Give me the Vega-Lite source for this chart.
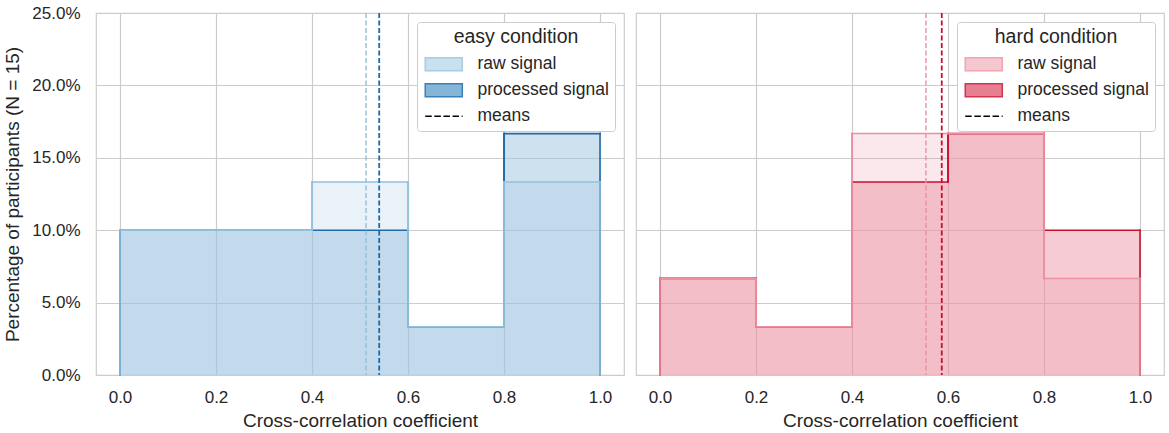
{
  "$schema": "https://vega.github.io/schema/vega-lite/v6.json",
  "autosize": {"type": "pad"},
  "padding": {"left": 3, "top": 3, "right": 7, "bottom": 3},
  "bounds": "flush",
  "spacing": 12,
  "background": "white",
  "config": {
    "font": "Liberation Sans",
    "view": {"stroke": "#cccccc", "strokeWidth": 1.2},
    "axis": {
      "grid": true, "gridColor": "#cccccc", "gridWidth": 1.2,
      "domain": false, "ticks": false,
      "labelFont": "Liberation Sans", "labelFontSize": 17, "labelColor": "#262626",
      "titleFont": "Liberation Sans", "titleFontSize": 19, "titleFontWeight": "normal", "titleColor": "#262626"
    },
    "axisX": {"labelPadding": 14, "titlePadding": 6},
    "axisY": {"labelPadding": 16, "titlePadding": 9},
    "legend": {
      "orient": "top-right", "offset": 9, "padding": 6,
      "fillColor": "white", "strokeColor": "#cccccc", "cornerRadius": 3,
      "titleFont": "Liberation Sans", "titleFontSize": 19.5, "titleFontWeight": "normal", "titleColor": "#262626",
      "titleAnchor": "middle", "titlePadding": 8,
      "labelFont": "Liberation Sans", "labelFontSize": 17.5, "labelColor": "#262626", "labelLimit": 300,
      "labelOffset": 37, "rowPadding": 6, "symbolSize": 169, "symbolStrokeWidth": 1.5
    }
  },
  "datasets": {
    "bars": [
      {"condition": "easy", "signal": "raw signal", "bin_start": 0.0, "bin_end": 0.2, "pct": 0.1},
      {"condition": "easy", "signal": "raw signal", "bin_start": 0.2, "bin_end": 0.4, "pct": 0.1},
      {"condition": "easy", "signal": "raw signal", "bin_start": 0.4, "bin_end": 0.6, "pct": 0.1333},
      {"condition": "easy", "signal": "raw signal", "bin_start": 0.6, "bin_end": 0.8, "pct": 0.0333},
      {"condition": "easy", "signal": "raw signal", "bin_start": 0.8, "bin_end": 1.0, "pct": 0.1333},
      {"condition": "easy", "signal": "processed signal", "bin_start": 0.0, "bin_end": 0.2, "pct": 0.1},
      {"condition": "easy", "signal": "processed signal", "bin_start": 0.2, "bin_end": 0.4, "pct": 0.1},
      {"condition": "easy", "signal": "processed signal", "bin_start": 0.4, "bin_end": 0.6, "pct": 0.1},
      {"condition": "easy", "signal": "processed signal", "bin_start": 0.6, "bin_end": 0.8, "pct": 0.0333},
      {"condition": "easy", "signal": "processed signal", "bin_start": 0.8, "bin_end": 1.0, "pct": 0.1667},
      {"condition": "hard", "signal": "raw signal", "bin_start": 0.0, "bin_end": 0.2, "pct": 0.0667},
      {"condition": "hard", "signal": "raw signal", "bin_start": 0.2, "bin_end": 0.4, "pct": 0.0333},
      {"condition": "hard", "signal": "raw signal", "bin_start": 0.4, "bin_end": 0.6, "pct": 0.1667},
      {"condition": "hard", "signal": "raw signal", "bin_start": 0.6, "bin_end": 0.8, "pct": 0.1667},
      {"condition": "hard", "signal": "raw signal", "bin_start": 0.8, "bin_end": 1.0, "pct": 0.0667},
      {"condition": "hard", "signal": "processed signal", "bin_start": 0.0, "bin_end": 0.2, "pct": 0.0667},
      {"condition": "hard", "signal": "processed signal", "bin_start": 0.2, "bin_end": 0.4, "pct": 0.0333},
      {"condition": "hard", "signal": "processed signal", "bin_start": 0.4, "bin_end": 0.6, "pct": 0.1333},
      {"condition": "hard", "signal": "processed signal", "bin_start": 0.6, "bin_end": 0.8, "pct": 0.1667},
      {"condition": "hard", "signal": "processed signal", "bin_start": 0.8, "bin_end": 1.0, "pct": 0.1}
    ],
    "means": [
      {"condition": "easy", "signal": "raw signal", "mean": 0.5125},
      {"condition": "easy", "signal": "processed signal", "mean": 0.54},
      {"condition": "hard", "signal": "raw signal", "mean": 0.554},
      {"condition": "hard", "signal": "processed signal", "mean": 0.587}
    ]
  },
  "resolve": {
    "scale": {"fill": "independent", "stroke": "independent", "shape": "independent"},
    "legend": {"fill": "independent", "stroke": "independent", "shape": "independent"}
  },
  "hconcat": [
    {
      "width": 528,
      "height": 362,
      "data": {"name": "bars"},
      "transform": [
        {"filter": "datum.condition == 'easy'"},
        {"window": [{"op": "lag", "field": "pct", "as": "prev"}, {"op": "lead", "field": "pct", "as": "next"}],
         "groupby": ["signal"], "sort": [{"field": "bin_start"}]},
        {"calculate": "datum.prev == null ? 0 : datum.prev", "as": "prev0"},
        {"calculate": "datum.next == null ? 0 : datum.next", "as": "next0"}
      ],
      "layer": [
        {
          "transform": [{"filter": "datum.signal == 'processed signal'"}],
          "mark": {"type": "rect", "fill": "#9cc3e0", "fillOpacity": 0.5, "strokeWidth": 0},
          "encoding": {
            "x": {"field": "bin_start", "type": "quantitative",
                  "scale": {"domain": [-0.05, 1.05], "nice": false, "zero": false},
                  "axis": {"values": [0, 0.2, 0.4, 0.6, 0.8, 1.0], "format": ".1f"},
                  "title": "Cross-correlation coefficient"},
            "x2": {"field": "bin_end"},
            "y": {"field": "pct", "type": "quantitative",
                  "scale": {"domain": [0, 0.25], "nice": false},
                  "axis": {"values": [0, 0.05, 0.1, 0.15, 0.2, 0.25], "format": ".1%"},
                  "title": "Percentage of participants (N = 15)"},
            "y2": {"datum": 0}
          }
        },
        {
          "transform": [{"filter": "datum.signal == 'raw signal'"}],
          "mark": {"type": "rect", "fill": "#96bee1", "fillOpacity": 0.2, "strokeWidth": 0},
          "encoding": {
            "x": {"field": "bin_start", "type": "quantitative"},
            "x2": {"field": "bin_end"},
            "y": {"field": "pct", "type": "quantitative"},
            "y2": {"datum": 0}
          }
        },
        {
          "transform": [{"filter": "datum.signal == 'processed signal'"}],
          "mark": {"type": "rule", "color": "#1f6aa8", "strokeWidth": 1.6, "strokeCap": "square"},
          "encoding": {
            "x": {"field": "bin_start", "type": "quantitative"},
            "x2": {"field": "bin_end"},
            "y": {"field": "pct", "type": "quantitative"}
          }
        },
        {
          "transform": [{"filter": "datum.signal == 'processed signal'"}],
          "mark": {"type": "rule", "color": "#1f6aa8", "strokeWidth": 1.6, "strokeCap": "square"},
          "encoding": {
            "x": {"field": "bin_start", "type": "quantitative"},
            "y": {"field": "prev0", "type": "quantitative"},
            "y2": {"field": "pct"}
          }
        },
        {
          "transform": [{"filter": "datum.signal == 'processed signal'"}],
          "mark": {"type": "rule", "color": "#1f6aa8", "strokeWidth": 1.6, "strokeCap": "square"},
          "encoding": {
            "x": {"field": "bin_end", "type": "quantitative"},
            "y": {"field": "next0", "type": "quantitative"},
            "y2": {"field": "pct"}
          }
        },
        {
          "transform": [{"filter": "datum.signal == 'raw signal'"}],
          "mark": {"type": "rule", "color": "#92c0dd", "strokeWidth": 1.5, "strokeCap": "square"},
          "encoding": {
            "x": {"field": "bin_start", "type": "quantitative"},
            "x2": {"field": "bin_end"},
            "y": {"field": "pct", "type": "quantitative"}
          }
        },
        {
          "transform": [{"filter": "datum.signal == 'raw signal'"}],
          "mark": {"type": "rule", "color": "#92c0dd", "strokeWidth": 1.5, "strokeCap": "square"},
          "encoding": {
            "x": {"field": "bin_start", "type": "quantitative"},
            "y": {"field": "prev0", "type": "quantitative"},
            "y2": {"field": "pct"}
          }
        },
        {
          "transform": [{"filter": "datum.signal == 'raw signal'"}],
          "mark": {"type": "rule", "color": "#92c0dd", "strokeWidth": 1.5, "strokeCap": "square"},
          "encoding": {
            "x": {"field": "bin_end", "type": "quantitative"},
            "y": {"field": "next0", "type": "quantitative"},
            "y2": {"field": "pct"}
          }
        },
        {
          "data": {"name": "means"},
          "transform": [{"filter": "datum.condition == 'easy' && datum.signal == 'raw signal'"}],
          "mark": {"type": "rule", "color": "#8fc0dc", "strokeWidth": 1.4, "strokeDash": [5, 2.5]},
          "encoding": {"x": {"field": "mean", "type": "quantitative"}}
        },
        {
          "data": {"name": "means"},
          "transform": [{"filter": "datum.condition == 'easy' && datum.signal == 'processed signal'"}],
          "mark": {"type": "rule", "color": "#1f6aa8", "strokeWidth": 1.8, "strokeDash": [5, 2.5]},
          "encoding": {"x": {"field": "mean", "type": "quantitative"}}
        },
        {
          "transform": [{"filter": "false"}],
          "mark": {"type": "point", "filled": true, "opacity": 1, "size": 169},
          "encoding": {
            "fill": {"field": "signal", "type": "nominal",
                     "scale": {"domain": ["raw signal", "processed signal", "means"], "range": ["#c9e0ef", "#86b6d7", "transparent"]},
                     "legend": {"title": "easy condition"}},
            "stroke": {"field": "signal", "type": "nominal",
                       "scale": {"domain": ["raw signal", "processed signal", "means"], "range": ["#a6cde4", "#3a80b8", "#000000"]},
                       "legend": {"title": "easy condition"}},
            "shape": {"field": "signal", "type": "nominal",
                      "scale": {"domain": ["raw signal", "processed signal", "means"],
                                "range": ["M-1,-1H4.7V1H-1Z", "M-1,-1H4.7V1H-1Z", "M-1,0H0M0.4,0H1.4M1.8,0H2.8M3.2,0H4.2M4.6,0H4.75"]},
                      "legend": {"title": "easy condition"}}
          }
        }
      ]
    },
    {
      "width": 528,
      "height": 362,
      "data": {"name": "bars"},
      "transform": [
        {"filter": "datum.condition == 'hard'"},
        {"window": [{"op": "lag", "field": "pct", "as": "prev"}, {"op": "lead", "field": "pct", "as": "next"}],
         "groupby": ["signal"], "sort": [{"field": "bin_start"}]},
        {"calculate": "datum.prev == null ? 0 : datum.prev", "as": "prev0"},
        {"calculate": "datum.next == null ? 0 : datum.next", "as": "next0"}
      ],
      "layer": [
        {
          "transform": [{"filter": "datum.signal == 'processed signal'"}],
          "mark": {"type": "rect", "fill": "#ef97a8", "fillOpacity": 0.5, "strokeWidth": 0},
          "encoding": {
            "x": {"field": "bin_start", "type": "quantitative",
                  "scale": {"domain": [-0.05, 1.05], "nice": false, "zero": false},
                  "axis": {"values": [0, 0.2, 0.4, 0.6, 0.8, 1.0], "format": ".1f"},
                  "title": "Cross-correlation coefficient"},
            "x2": {"field": "bin_end"},
            "y": {"field": "pct", "type": "quantitative",
                  "scale": {"domain": [0, 0.25], "nice": false},
                  "axis": {"values": [0, 0.05, 0.1, 0.15, 0.2, 0.25], "labels": false},
                  "title": null},
            "y2": {"datum": 0}
          }
        },
        {
          "transform": [{"filter": "datum.signal == 'raw signal'"}],
          "mark": {"type": "rect", "fill": "#eb8ca0", "fillOpacity": 0.2, "strokeWidth": 0},
          "encoding": {
            "x": {"field": "bin_start", "type": "quantitative"},
            "x2": {"field": "bin_end"},
            "y": {"field": "pct", "type": "quantitative"},
            "y2": {"datum": 0}
          }
        },
        {
          "transform": [{"filter": "datum.signal == 'processed signal'"}],
          "mark": {"type": "rule", "color": "#c8102e", "strokeWidth": 1.6, "strokeCap": "square"},
          "encoding": {
            "x": {"field": "bin_start", "type": "quantitative"},
            "x2": {"field": "bin_end"},
            "y": {"field": "pct", "type": "quantitative"}
          }
        },
        {
          "transform": [{"filter": "datum.signal == 'processed signal'"}],
          "mark": {"type": "rule", "color": "#c8102e", "strokeWidth": 1.6, "strokeCap": "square"},
          "encoding": {
            "x": {"field": "bin_start", "type": "quantitative"},
            "y": {"field": "prev0", "type": "quantitative"},
            "y2": {"field": "pct"}
          }
        },
        {
          "transform": [{"filter": "datum.signal == 'processed signal'"}],
          "mark": {"type": "rule", "color": "#c8102e", "strokeWidth": 1.6, "strokeCap": "square"},
          "encoding": {
            "x": {"field": "bin_end", "type": "quantitative"},
            "y": {"field": "next0", "type": "quantitative"},
            "y2": {"field": "pct"}
          }
        },
        {
          "transform": [{"filter": "datum.signal == 'raw signal'"}],
          "mark": {"type": "rule", "color": "#ec8fa0", "strokeWidth": 1.5, "strokeCap": "square"},
          "encoding": {
            "x": {"field": "bin_start", "type": "quantitative"},
            "x2": {"field": "bin_end"},
            "y": {"field": "pct", "type": "quantitative"}
          }
        },
        {
          "transform": [{"filter": "datum.signal == 'raw signal'"}],
          "mark": {"type": "rule", "color": "#ec8fa0", "strokeWidth": 1.5, "strokeCap": "square"},
          "encoding": {
            "x": {"field": "bin_start", "type": "quantitative"},
            "y": {"field": "prev0", "type": "quantitative"},
            "y2": {"field": "pct"}
          }
        },
        {
          "transform": [{"filter": "datum.signal == 'raw signal'"}],
          "mark": {"type": "rule", "color": "#ec8fa0", "strokeWidth": 1.5, "strokeCap": "square"},
          "encoding": {
            "x": {"field": "bin_end", "type": "quantitative"},
            "y": {"field": "next0", "type": "quantitative"},
            "y2": {"field": "pct"}
          }
        },
        {
          "data": {"name": "means"},
          "transform": [{"filter": "datum.condition == 'hard' && datum.signal == 'raw signal'"}],
          "mark": {"type": "rule", "color": "#ec8fa0", "strokeWidth": 1.4, "strokeDash": [5, 2.5]},
          "encoding": {"x": {"field": "mean", "type": "quantitative"}}
        },
        {
          "data": {"name": "means"},
          "transform": [{"filter": "datum.condition == 'hard' && datum.signal == 'processed signal'"}],
          "mark": {"type": "rule", "color": "#c8102e", "strokeWidth": 1.8, "strokeDash": [5, 2.5]},
          "encoding": {"x": {"field": "mean", "type": "quantitative"}}
        },
        {
          "transform": [{"filter": "false"}],
          "mark": {"type": "point", "filled": true, "opacity": 1, "size": 169},
          "encoding": {
            "fill": {"field": "signal", "type": "nominal",
                     "scale": {"domain": ["raw signal", "processed signal", "means"], "range": ["#f5c8d0", "#e67f91", "transparent"]},
                     "legend": {"title": "hard condition"}},
            "stroke": {"field": "signal", "type": "nominal",
                       "scale": {"domain": ["raw signal", "processed signal", "means"], "range": ["#f0a4b2", "#d0374f", "#000000"]},
                       "legend": {"title": "hard condition"}},
            "shape": {"field": "signal", "type": "nominal",
                      "scale": {"domain": ["raw signal", "processed signal", "means"],
                                "range": ["M-1,-1H4.7V1H-1Z", "M-1,-1H4.7V1H-1Z", "M-1,0H0M0.4,0H1.4M1.8,0H2.8M3.2,0H4.2M4.6,0H4.75"]},
                      "legend": {"title": "hard condition"}}
          }
        }
      ]
    }
  ]
}
